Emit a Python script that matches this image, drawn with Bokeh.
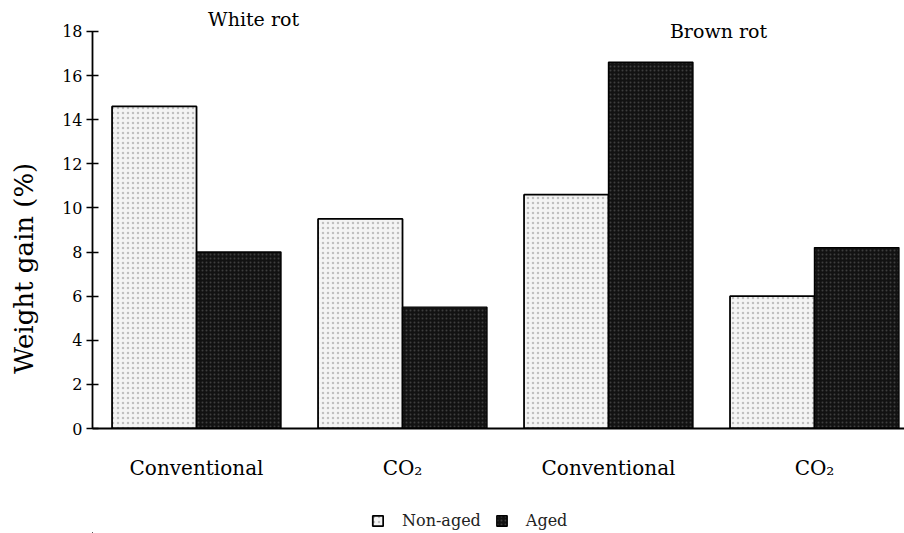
from bokeh.plotting import figure
from bokeh.layouts import column
from bokeh.models import ColumnDataSource, FixedTicker, Legend, LegendItem, Label
from bokeh.transform import dodge
from bokeh.embed import file_html
from bokeh.resources import INLINE

# ---- data ----
rot_types = ["White rot", "Brown rot"]
treatments = ["Conventional", "CO\u2082", "Conventional", "CO\u2082"]
non_aged = [14.6, 9.5, 10.6, 6.0]
aged = [8.0, 5.5, 16.6, 8.2]
series_labels = ["Non-aged", "Aged"]
y_ticks = [0, 2, 4, 6, 8, 10, 12, 14, 16, 18]
y_title = "Weight gain (%)"

# ---- layout/style ----
SERIF = "DejaVu Serif"
BAR_W = 0.41
TITLE_PAD = "\u00a0" * 13   # shifts the rotated y title downwards, as in the reference
NA_STYLE = dict(fill_color="#f4f4f4", line_color="black", line_width=1.8,
                hatch_pattern="dot", hatch_color="#a8a8a8", hatch_scale=5, hatch_alpha=0.7)
AG_STYLE = dict(fill_color="#121212", line_color="black", line_width=1.4,
                hatch_pattern="dot", hatch_color="#6a6a6a", hatch_scale=4, hatch_alpha=0.5)

idx = list(range(len(treatments)))
src = ColumnDataSource(dict(x=idx, non_aged=non_aged, aged=aged))

p = figure(frame_width=812, frame_height=428, x_range=(-0.505, 3.437), y_range=(0, 19.40),
           output_backend="svg", toolbar_location=None,
           min_border_left=92, min_border_right=0, min_border_top=0,
           min_border_bottom=60)
p.outline_line_color = None
p.xgrid.grid_line_color = None
p.ygrid.grid_line_color = None
p.background_fill_color = "white"
p.border_fill_color = "white"

r1 = p.vbar(x=dodge("x", -BAR_W / 2, range=p.x_range), top="non_aged", width=BAR_W,
            source=src, **NA_STYLE)
r2 = p.vbar(x=dodge("x", BAR_W / 2, range=p.x_range), top="aged", width=BAR_W,
            source=src, **AG_STYLE)

# y axis
ya = p.yaxis[0]
ya.ticker = FixedTicker(ticks=y_ticks)
ya.bounds = (0, 18)
ya.major_tick_in = 6
ya.major_tick_out = 6
ya.minor_tick_line_color = None
ya.axis_line_width = 1.8
ya.major_tick_line_width = 1.5
ya.major_label_text_font = SERIF
ya.major_label_text_font_size = "16px"
ya.major_label_text_color = "black"
ya.major_label_standoff = 4
ya.axis_label = y_title + TITLE_PAD
ya.axis_label_text_font = SERIF
ya.axis_label_text_font_size = "26px"
ya.axis_label_text_font_style = "normal"
ya.axis_label_text_color = "black"
ya.axis_label_standoff = 20

# x axis
xa = p.xaxis[0]
xa.ticker = FixedTicker(ticks=idx)
xa.major_label_overrides = {i: t for i, t in zip(idx, treatments)}
xa.major_tick_line_color = None
xa.minor_tick_line_color = None
xa.axis_line_width = 1.8
xa.major_label_text_font = SERIF
xa.major_label_text_font_size = "20px"
xa.major_label_text_color = "black"
xa.major_label_standoff = 21

# group titles
group_pos = [(0.277, 18.58), (2.534, 18.04)]
for name, (gx, gy) in zip(rot_types, group_pos):
    p.add_layout(Label(x=gx, y=gy, text=name, text_font=SERIF, text_font_size="19px",
                       text_align="center", text_baseline="middle", text_color="black"))

# legend strip below the chart (its renderers sit outside the strip's visible ranges)
p2 = figure(frame_width=904, frame_height=45, x_range=(100, 101), y_range=(100, 101),
            output_backend="svg", toolbar_location=None, x_axis_type=None, y_axis_type=None,
            min_border_left=0, min_border_right=0, min_border_top=0, min_border_bottom=0)
p2.outline_line_color = None
p2.xgrid.grid_line_color = None
p2.ygrid.grid_line_color = None
p2.background_fill_color = "white"
p2.border_fill_color = "white"
k1 = p2.vbar(x="x", top="non_aged", width=0.1, source=src, **NA_STYLE)
k2 = p2.vbar(x="x", top="aged", width=0.1, source=src, **AG_STYLE)
legend = Legend(items=[LegendItem(label=series_labels[0], renderers=[k1], index=0),
                       LegendItem(label=series_labels[1], renderers=[k2], index=0)],
                orientation="horizontal", location=(371, 3),
                label_text_font=SERIF, label_text_font_size="16px",
                label_text_color="#222222", glyph_width=13, glyph_height=13,
                label_standoff=18, spacing=14, padding=2, margin=0,
                border_line_color=None, background_fill_alpha=0)
p2.add_layout(legend, "center")

layout = column(p, p2, spacing=0)
open("out.html", "w").write(file_html(layout, INLINE))
